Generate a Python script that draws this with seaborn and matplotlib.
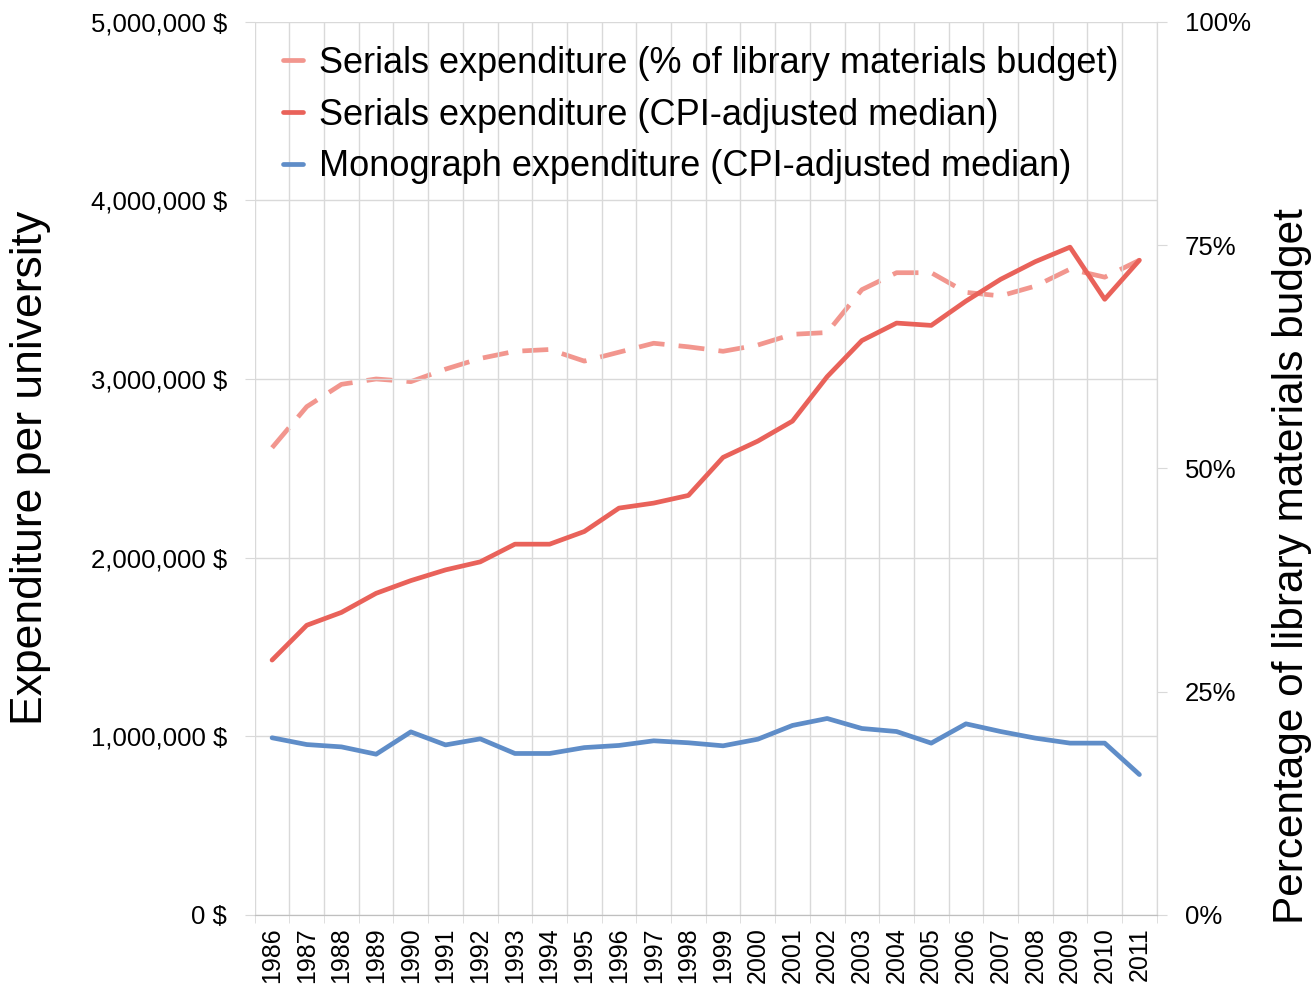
import matplotlib.pyplot as plt
import seaborn as sns
from matplotlib.ticker import FuncFormatter, MultipleLocator
from matplotlib.lines import Line2D

years = list(range(1986, 2012))
year_labels = [str(y) for y in years]

# serials share of library materials budget (%)
serials_pct = [52.3, 56.9, 59.4, 60.0, 59.7, 61.1, 62.3, 63.1, 63.3, 62.0, 63.0, 64.0, 63.6,
               63.1, 63.8, 65.0, 65.2, 70.0, 71.9, 71.9, 69.7, 69.3, 70.4, 72.3, 71.4, 73.3]
# CPI-adjusted medians ($)
serials_cpi = [1426000, 1621000, 1693000, 1800000, 1871000, 1931000, 1976000, 2075000, 2075000,
               2146000, 2277000, 2305000, 2348000, 2561000, 2652000, 2764000, 3013000, 3215000,
               3313000, 3300000, 3436000, 3558000, 3657000, 3738000, 3446000, 3665000]
monograph_cpi = [991000, 953000, 940000, 899000, 1024000, 951000, 985000, 903000, 903000,
                 936000, 948000, 974000, 963000, 946000, 983000, 1060000, 1099000, 1043000,
                 1026000, 961000, 1069000, 1026000, 989000, 961000, 961000, 785000]

labels = ['Serials expenditure (% of library materials budget)',
          'Serials expenditure (CPI-adjusted median)',
          'Monograph expenditure (CPI-adjusted median)']
c_pct = '#f2968e'
c_ser = '#e9625a'
c_mono = '#5f8dc8'

sns.set_style('white')
plt.rcParams['font.family'] = ['Liberation Sans', 'DejaVu Sans']

fig = plt.figure(figsize=(13.13, 9.9), dpi=100)
ax = fig.add_axes([0.194, 0.076, 0.687, 0.902])
ax2 = ax.twinx()
ax.set_zorder(2)
ax.patch.set_visible(False)

lw = 3.4
sns.lineplot(x=years, y=serials_pct, ax=ax2, color=c_pct, lw=lw, legend=False)
ax2.lines[0].set_dashes([5.5, 3.0])
sns.lineplot(x=years, y=serials_cpi, ax=ax, color=c_ser, lw=lw, legend=False)
sns.lineplot(x=years, y=monograph_cpi, ax=ax, color=c_mono, lw=lw, legend=False)

grid_c = '#d9d9d9'
ax.set_xlim(1985.5, 2011.5)
ax.set_ylim(0, 5000000)
ax2.set_ylim(0, 100)

ax.yaxis.set_major_locator(MultipleLocator(1000000))
ax.yaxis.set_major_formatter(FuncFormatter(lambda v, p: f'{int(v):,} $'))
ax2.yaxis.set_major_locator(MultipleLocator(25))
ax2.yaxis.set_major_formatter(FuncFormatter(lambda v, p: f'{int(v)}%'))

ax.set_xticks(years)
ax.set_xticklabels(year_labels, rotation=90)
ax.set_xticks([y - 0.5 for y in years] + [2011.5], minor=True)

ax.grid(True, which='major', axis='y', color=grid_c, lw=1)
ax.grid(True, which='minor', axis='x', color=grid_c, lw=1)
ax.grid(False, which='major', axis='x')
ax2.grid(False)

ax.tick_params(axis='y', which='major', left=True, length=7, color=grid_c, pad=13,
               labelsize=18.5, labelcolor='black')
ax.tick_params(axis='x', which='major', bottom=True, length=0, pad=9, labelsize=18,
               labelcolor='black')
ax.tick_params(axis='x', which='minor', bottom=True, length=6, color=grid_c)
ax2.tick_params(axis='y', right=True, length=7, color=grid_c, pad=13, labelsize=18.5,
                labelcolor='black')

for a in (ax, ax2):
    a.spines['top'].set_visible(False)
    a.spines['left'].set_visible(False)
    a.spines['right'].set_color(grid_c)
    a.spines['bottom'].set_color('#bfbfbf')

ax.set_xlabel('')
ax.set_ylabel('Expenditure per university', fontsize=32, color='black')
ax.yaxis.set_label_coords(-0.226, 0.5)
ax2.set_ylabel('Percentage of library materials budget', fontsize=30.5, rotation=90,
               color='black')
ax2.yaxis.set_label_coords(1.128, 0.39)

handles = [Line2D([], [], color=c_pct, lw=lw),
           Line2D([], [], color=c_ser, lw=lw),
           Line2D([], [], color=c_mono, lw=lw)]
leg = ax.legend(handles, labels, loc='upper left', bbox_to_anchor=(0.0155, 0.989),
                frameon=False, fontsize=26, handlelength=0.55, handletextpad=0.45,
                labelspacing=0.46, borderaxespad=0)
for t in leg.get_texts():
    t.set_color('black')

fig.savefig('out.png', dpi=100)
